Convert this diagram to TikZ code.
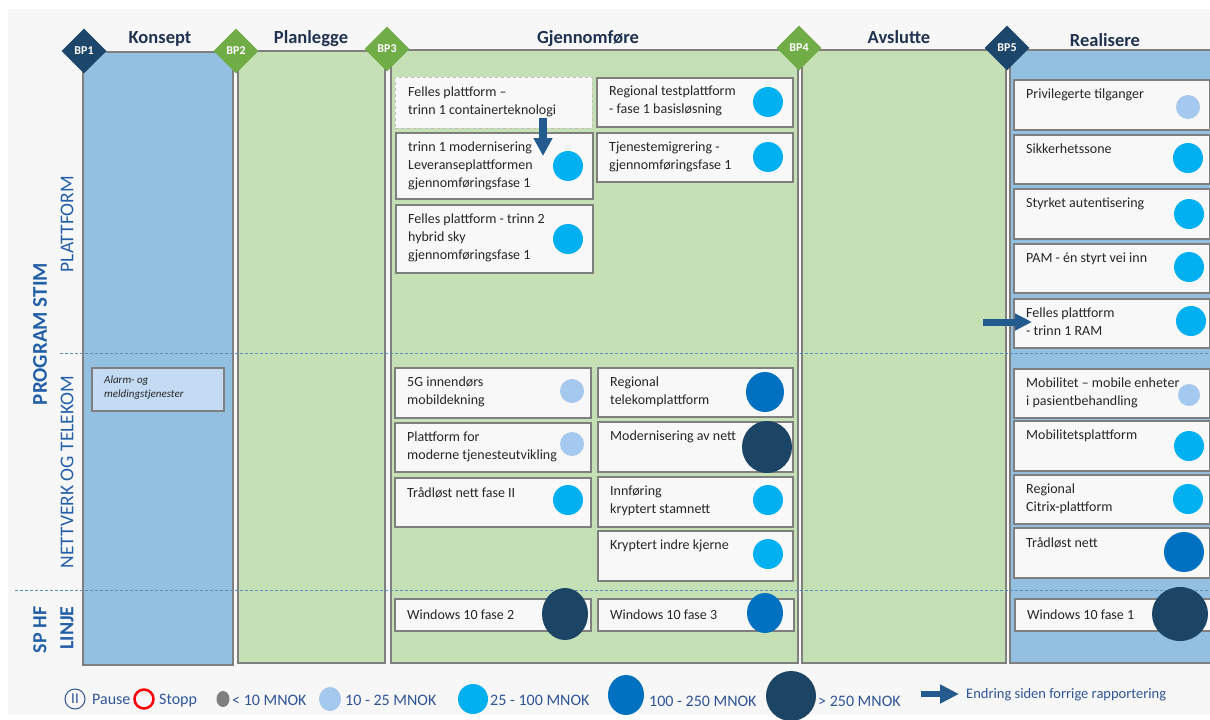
\documentclass[tikz,border=0pt]{standalone}
\usepackage{fontspec}
\setmainfont{Carlito}
\usetikzlibrary{shapes.geometric,arrows.meta}
\definecolor{bakgrunn}{HTML}{F7F7F7}
\definecolor{kantgraa}{HTML}{7F7F7F}
\definecolor{lysgraa}{HTML}{BFBFBF}
\definecolor{boksfyll}{HTML}{F8F8F8}
\definecolor{kolblaa}{HTML}{93BFE1}
\definecolor{kolgronn}{HTML}{C5E0B4}
\definecolor{bpmork}{HTML}{1D466B}
\definecolor{bpgronn}{HTML}{70AD47}
\definecolor{overskrift}{HTML}{1F3351}
\definecolor{radblaa}{HTML}{2460A7}
\definecolor{skilleblaa}{HTML}{5A8DB8}
\definecolor{tekstgraa}{HTML}{262626}
\definecolor{alarmfyll}{HTML}{C3DBF3}
\definecolor{lys}{HTML}{A4C8EE}
\definecolor{cyan}{HTML}{00B0F0}
\definecolor{mellom}{HTML}{0070C0}
\definecolor{mork}{HTML}{1C4464}
\definecolor{pilblaa}{HTML}{235B8E}
\definecolor{legblaa}{HTML}{2F5597}
\begin{document}
\begin{tikzpicture}[x=1pt,y=-1pt,
    kolonne/.style={draw=kantgraa, line width=2.5},
    bp/.style={diamond, minimum size=45, inner sep=1pt, text=white, font=\bfseries\fontsize{12}{12}\selectfont},
    fase/.style={anchor=base, text=overskrift, font=\bfseries\fontsize{18.5}{20}\selectfont},
    rad/.style={rotate=90, text=radblaa, font=\fontsize{19.5}{20}\selectfont},
    boks/.style={draw=kantgraa, line width=2, fill=boksfyll, anchor=north west, inner sep=0pt},
    tekst/.style={anchor=north west, align=left, inner sep=0pt, text=tekstgraa, font=\fontsize{14}{18}\selectfont},
    skille/.style={draw=skilleblaa, line width=0.8, dash pattern=on 3pt off 2pt},
    endring/.style={draw=pilblaa, line width=7, -{Triangle[width=17pt, length=17pt]}},
    legtekst/.style={anchor=base west, inner sep=0pt, text=legblaa, font=\fontsize{16}{16}\selectfont}
  ]
  \useasboundingbox (0,0) rectangle (1210,720);
  \fill[white] (0,0) rectangle (1210,720);
  \fill[bakgrunn] (8,9) rectangle (1210,715);

  \filldraw[kolonne, fill=kolblaa] (83,52) rectangle (233,665);
  \filldraw[kolonne, fill=kolgronn] (238,51) rectangle (385,663);
  \filldraw[kolonne, fill=kolgronn] (391,50) rectangle (798,663);
  \filldraw[kolonne, fill=kolgronn] (802,50) rectangle (1006,663);
  \filldraw[kolonne, fill=kolblaa] (1010,50) rectangle (1218,663);

  \draw[skille] (60,353) -- (1210,353);
  \draw[skille] (15,590) -- (1210,590);

  \node[bp, fill=bpmork] (bp1) at (84,51) {BP1};
  \node[bp, fill=bpgronn] (bp2) at (236,51) {BP2};
  \node[bp, fill=bpgronn] (bp3) at (387,49) {BP3};
  \node[bp, fill=bpgronn] (bp4) at (799,48) {BP4};
  \node[bp, fill=bpmork] (bp5) at (1007,48) {BP5};

  \node[fase] (konsept) at (160,43) {Konsept};
  \node[fase] (planlegge) at (311,43) {Planlegge};
  \node[fase] (gjennomfore) at (588,43) {Gjennomføre};
  \node[fase] (avslutte) at (899,43) {Avslutte};
  \node[fase] (realisere) at (1105,46) {Realisere};

  \node[rad, font=\bfseries\fontsize{21}{22}\selectfont] (program) at (40,334) {PROGRAM STIM};
  \node[rad] (plattform) at (67,224) {PLATTFORM};
  \node[rad] (nettverk) at (67,472) {NETTVERK OG TELEKOM};
  \node[rad, font=\bfseries\fontsize{20}{22}\selectfont] (sphf) at (40,630) {SP HF};
  \node[rad, font=\bfseries\fontsize{20}{22}\selectfont] (linje) at (67,628) {LINJE};

  \node[boks, fill=alarmfyll, minimum width=132, minimum height=43] (alarm) at (91,367) {};
  \node[tekst, font=\itshape\fontsize{11}{14}\selectfont] at ([shift={(13,9)}]alarm.north west) {Alarm- og\\meldingstjenester};

  \node[boks, draw=lysgraa, line width=0.8, dashed, minimum width=197, minimum height=51] (felles1) at (395,77) {};
  \node[tekst] at ([shift={(13,10)}]felles1.north west) {Felles plattform –\\trinn 1 containerteknologi};
  \node[boks, minimum width=197, minimum height=66] (trinn1) at (395,132) {};
  \node[tekst] at ([shift={(13,10)}]trinn1.north west) {trinn 1 modernisering\\Leveranseplattformen\\gjennomføringsfase 1};
  \fill[cyan] (568,166) circle (15);
  \node[boks, minimum width=197, minimum height=68] (felles2) at (395,204) {};
  \node[tekst] at ([shift={(13,10)}]felles2.north west) {Felles plattform - trinn 2\\hybrid sky\\gjennomføringsfase 1};
  \fill[cyan] (568,239) circle (15);
  \node[boks, minimum width=196, minimum height=49] (testplf) at (596,77) {};
  \node[tekst] at ([shift={(13,9)}]testplf.north west) {Regional testplattform\\- fase 1 basisløsning};
  \fill[cyan] (768,102) circle (15);
  \node[boks, minimum width=196, minimum height=49] (tjmigr) at (596,132) {};
  \node[tekst] at ([shift={(13,10)}]tjmigr.north west) {Tjenestemigrering -\\gjennomføringsfase 1};
  \fill[cyan] (768,157) circle (15);
  \coordinate (pilA) at (543,118);
  \coordinate (pilB) at (543,156);
  \draw[endring, line width=8, -{Triangle[width=18pt, length=18pt]}] (pilA) -- (pilB);

  \node[boks, minimum width=196, minimum height=50] (g5) at (394,367) {};
  \node[tekst] at ([shift={(13,10)}]g5.north west) {5G innendørs\\mobildekning};
  \fill[lys] (572,391) circle (12);
  \node[boks, minimum width=196, minimum height=49] (plfmod) at (394,422) {};
  \node[tekst] at ([shift={(13,10)}]plfmod.north west) {Plattform for\\moderne tjenesteutvikling};
  \fill[lys] (572,444) circle (12);
  \node[boks, minimum width=196, minimum height=49] (trlos2) at (394,477) {};
  \node[tekst] at ([shift={(13,10)}]trlos2.north west) {Trådløst nett fase II};
  \fill[cyan] (568,500) circle (15);
  \node[boks, minimum width=195, minimum height=49] (regtel) at (597,367) {};
  \node[tekst] at ([shift={(13,10)}]regtel.north west) {Regional\\telekomplattform};
  \fill[mellom] (765,392) ellipse [x radius=19, y radius=20];
  \node[boks, minimum width=195, minimum height=50] (modnett) at (597,421) {};
  \node[tekst] at ([shift={(13,10)}]modnett.north west) {Modernisering av nett};
  \fill[mork] (767,447) ellipse [x radius=25, y radius=26];
  \node[boks, minimum width=195, minimum height=50] (kryptst) at (597,476) {};
  \node[tekst] at ([shift={(13,10)}]kryptst.north west) {Innføring\\kryptert stamnett};
  \fill[cyan] (768,500) circle (15);
  \node[boks, minimum width=195, minimum height=50] (krindre) at (597,530) {};
  \node[tekst] at ([shift={(13,10)}]krindre.north west) {Kryptert indre kjerne};
  \fill[cyan] (768,554) circle (15);

  \node[boks, minimum width=196, minimum height=32] (win2) at (394,598) {};
  \node[tekst, anchor=west] at ([xshift=13pt]win2.west) {Windows 10 fase 2};
  \fill[mork] (565,614) ellipse [x radius=23, y radius=26];
  \node[boks, minimum width=196, minimum height=32] (win3) at (597,598) {};
  \node[tekst, anchor=west] at ([xshift=13pt]win3.west) {Windows 10 fase 3};
  \fill[mellom] (765,613) ellipse [x radius=18, y radius=20];

  \node[boks, minimum width=196, minimum height=50] (priv) at (1013,79) {};
  \node[tekst] at ([shift={(13,10)}]priv.north west) {Privilegerte tilganger};
  \fill[lys] (1188,107) circle (12);
  \node[boks, minimum width=196, minimum height=49] (sikk) at (1013,134) {};
  \node[tekst] at ([shift={(13,10)}]sikk.north west) {Sikkerhetssone};
  \fill[cyan] (1188,158) circle (15);
  \node[boks, minimum width=196, minimum height=50] (styrk) at (1013,188) {};
  \node[tekst] at ([shift={(13,10)}]styrk.north west) {Styrket autentisering};
  \fill[cyan] (1189,214) circle (15);
  \node[boks, minimum width=196, minimum height=49] (pam) at (1013,243) {};
  \node[tekst] at ([shift={(13,10)}]pam.north west) {PAM - én styrt vei inn};
  \fill[cyan] (1189,267) circle (15);
  \node[boks, minimum width=196, minimum height=49] (fellesram) at (1013,298) {};
  \node[tekst] at ([shift={(13,10)}]fellesram.north west) {Felles plattform\\- trinn 1 RAM};
  \fill[cyan] (1191,321) circle (15);
  \coordinate (pilC) at (983,322);
  \coordinate (pilD) at (1032,322);
  \draw[endring, -{Triangle[width=16pt, length=17pt]}] (pilC) -- (pilD);

  \node[boks, minimum width=196, minimum height=49] (mobil) at (1013,368) {};
  \node[tekst] at ([shift={(13,10)}]mobil.north west) {Mobilitet – mobile enheter\\i pasientbehandling};
  \fill[lys] (1189,395) circle (11);
  \node[boks, minimum width=196, minimum height=50] (mobplf) at (1013,420) {};
  \node[tekst] at ([shift={(13,10)}]mobplf.north west) {Mobilitetsplattform};
  \fill[cyan] (1189,446) circle (15);
  \node[boks, minimum width=196, minimum height=49] (citrix) at (1013,474) {};
  \node[tekst] at ([shift={(13,10)}]citrix.north west) {Regional\\Citrix-plattform};
  \fill[cyan] (1188,499) circle (15);
  \node[boks, minimum width=196, minimum height=50] (trlos) at (1013,527) {};
  \node[tekst] at ([shift={(13,10)}]trlos.north west) {Trådløst nett};
  \fill[mellom] (1184,552) circle (20);

  \node[boks, minimum width=200, minimum height=32] (win1) at (1014,598) {};
  \node[tekst, anchor=west] at ([xshift=13pt]win1.west) {Windows 10 fase 1};
  \fill[mork] (1180,614) ellipse [x radius=28, y radius=27];

  \node[circle, draw=legblaa, line width=1, minimum size=20, inner sep=0pt, text=legblaa, font=\fontsize{15}{15}\selectfont] (pause) at (75,699) {II};
  \node[legtekst] (pausetxt) at (92,704) {Pause};
  \draw[red, line width=2.5] (144,699) circle (9.5);
  \node[legtekst] (stopptxt) at (159,704) {Stopp};
  \fill[kantgraa] (223,699) ellipse [x radius=6.5, y radius=8];
  \node[legtekst] (lt10) at (232,705) {< 10 MNOK};
  \fill[lys] (330,699) ellipse [x radius=11, y radius=12];
  \node[legtekst] (lt25) at (345,705) {10 - 25 MNOK};
  \fill[cyan] (473,699) circle (15);
  \node[legtekst] (lt100) at (490,705) {25 - 100 MNOK};
  \fill[mellom] (626,695) ellipse [x radius=18, y radius=20];
  \node[legtekst] (lt250) at (649,706) {100 - 250 MNOK};
  \fill[mork] (791,696) circle (25);
  \node[legtekst] (gt250) at (818,706) {> 250 MNOK};
  \coordinate (pilE) at (921,694);
  \coordinate (pilF) at (959,694);
  \draw[endring, line width=6, -{Triangle[width=18pt, length=19pt]}] (pilE) -- (pilF);
  \node[legtekst, font=\fontsize{14.5}{15}\selectfont] (endringtxt) at (966,698) {Endring siden forrige rapportering};
\end{tikzpicture}
\end{document}
